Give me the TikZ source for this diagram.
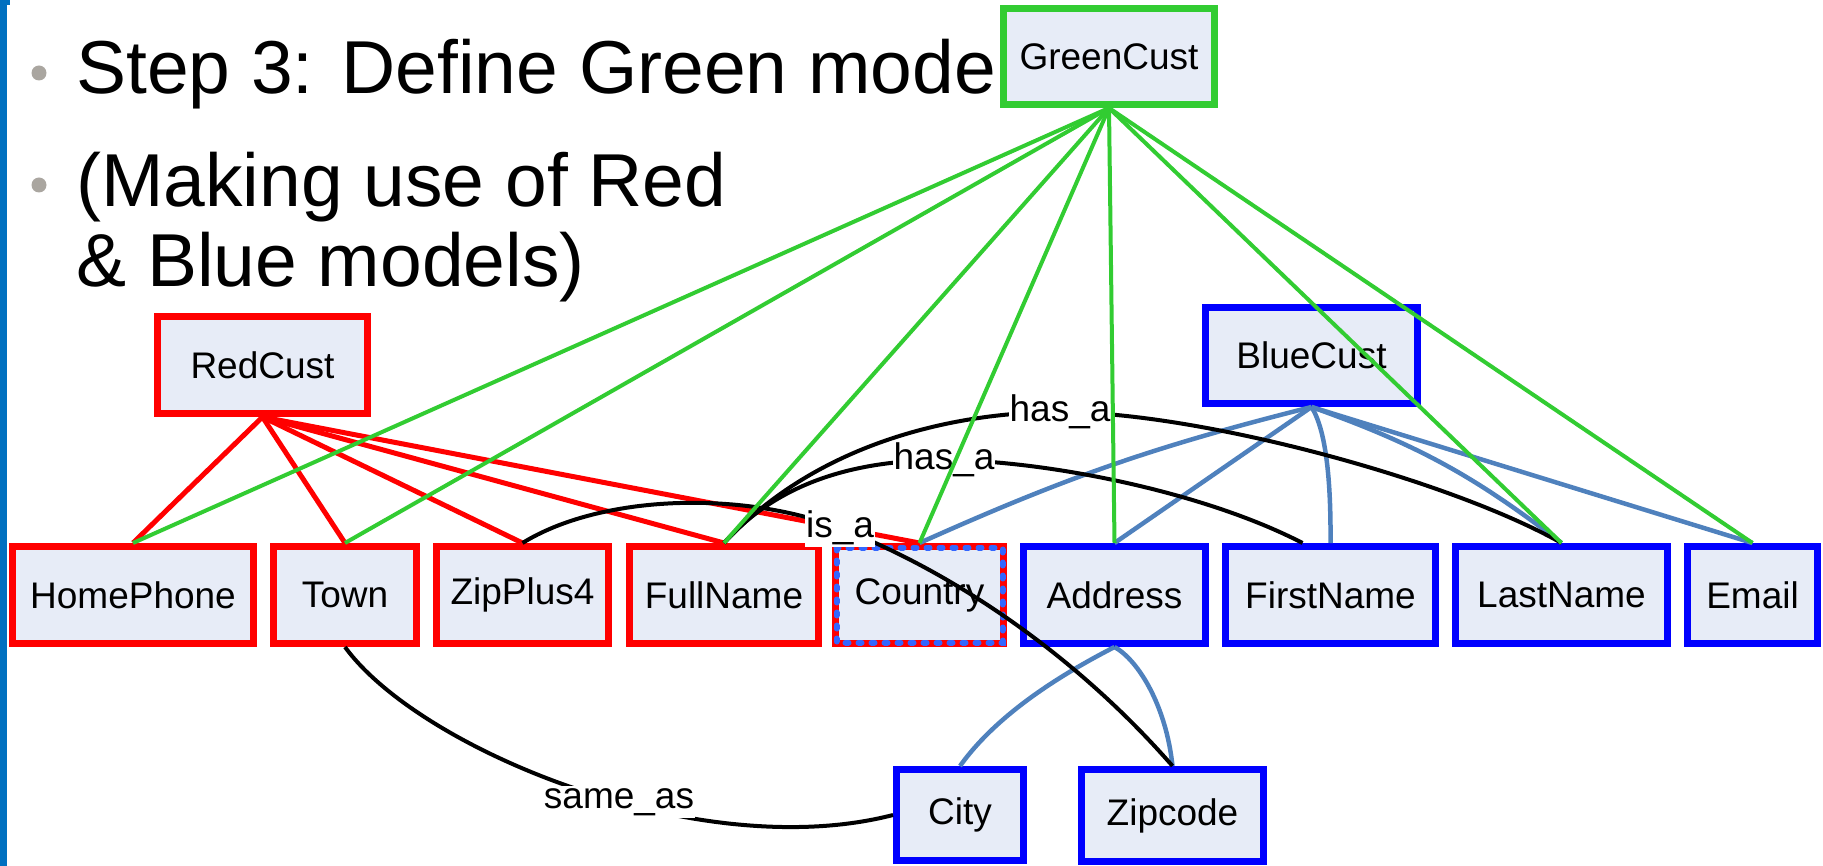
\documentclass[tikz,border=0pt]{standalone}
\usepackage{fontspec}
\setmainfont{Liberation Sans}
\definecolor{nodefill}{RGB}{231,236,247}
\definecolor{gred}{RGB}{255,0,0}
\definecolor{gblue}{RGB}{0,0,255}
\definecolor{ggreen}{RGB}{50,204,50}
\definecolor{eblue}{RGB}{79,129,189}
\definecolor{dotblue}{RGB}{51,102,255}
\definecolor{barblue}{RGB}{0,112,192}
\definecolor{bulletgrey}{RGB}{170,166,160}
\tikzset{
  box/.style={rectangle, draw, fill=nodefill, line width=7pt, inner sep=0pt,
    minimum height=97pt, font=\fontsize{37}{40}\selectfont},
  redbox/.style={box, draw=gred},
  bluebox/.style={box, draw=gblue},
  greenbox/.style={box, draw=ggreen},
  redE/.style={draw=gred, line width=5pt},
  blueE/.style={draw=eblue, line width=4.5pt},
  greenE/.style={draw=ggreen, line width=4pt},
  blackE/.style={draw=black, line width=4pt},
  lbl/.style={fill=white, inner xsep=1pt, inner ysep=2pt, font=\fontsize{37}{40}\selectfont},
  titletext/.style={anchor=base west, inner sep=0pt, font=\fontsize{75}{80}\selectfont},
}
\begin{document}
\begin{tikzpicture}[x=1pt,y=-1pt]
\useasboundingbox (0,0) rectangle (1823,866);
% left bar and bullets
\fill[barblue] (0,0) rectangle (7,866);
\fill[barblue] (0,0) rectangle (10,5);
\fill[bulletgrey] (39,73) circle[radius=7.5pt];
\fill[bulletgrey] (39,185) circle[radius=7.5pt];
\node[titletext] (t1) at (76,94) {Step 3: Define Green model};
\node[titletext] (t2) at (76,207) {(Making use of Red};
\node[titletext] (t3) at (76,287) {\& Blue models)};
% nodes
\node[greenbox, minimum width=211pt, minimum height=96pt] (GreenCust) at (1109,56.5) {GreenCust};
\node[redbox, minimum width=210pt] (RedCust) at (262.5,365) {RedCust};
\node[bluebox, minimum width=212pt, minimum height=96pt] (BlueCust) at (1311.5,355.5) {BlueCust};
\node[redbox, minimum width=241pt] (HomePhone) at (133,595) {HomePhone};
\node[redbox, minimum width=143pt] (Town) at (345,595) {Town};
\node[redbox, minimum width=172pt] (ZipPlus4) at (522.5,595) {ZipPlus4};
\node[redbox, minimum width=189pt] (FullName) at (724,595) {FullName};
\node[redbox, minimum width=168pt] (Country) at (919.5,595) {Country};
\draw[dotblue, line width=6pt, line cap=round, dash pattern=on 3pt off 10pt]
  ([shift={(4.5,4.5)}]Country.north west) rectangle ([shift={(-4.5,-4.5)}]Country.south east);
\node[bluebox, minimum width=182pt] (Address) at (1114.5,595) {Address};
\node[bluebox, minimum width=210pt] (FirstName) at (1330.5,595) {FirstName};
\node[bluebox, minimum width=212pt] (LastName) at (1561.5,595) {LastName};
\node[bluebox, minimum width=130pt] (Email) at (1752.5,595) {Email};
\node[bluebox, minimum width=127pt, minimum height=91pt] (City) at (960,815) {City};
\node[bluebox, minimum width=182pt, minimum height=92pt] (Zipcode) at (1172.5,815.5) {Zipcode};
% red edges
\foreach \n in {HomePhone,Town,ZipPlus4,FullName,Country}
  \draw[redE] (RedCust.south) -- (\n.north);
% blue edges
\draw[blueE] (BlueCust.south) to[bend right=5] (Country.north);
\draw[blueE] (BlueCust.south) -- (Address.north);
\draw[blueE] (BlueCust.south) .. controls (1326,430) and (1331,480) .. (FirstName.north);
\draw[blueE] (BlueCust.south) to[bend left=9] (LastName.north);
\draw[blueE] (BlueCust.south) -- (Email.north);
\draw[blueE] (Address.south) .. controls (1070,670) and (1000,710) .. (City.north);
\draw[blueE] (Address.south) .. controls (1138,660) and (1166,705) .. (Zipcode.north);
% black labelled edges
\draw[blackE] (FullName.north) .. controls (820,440) and (960,412) .. (1060,412)
  node[lbl] (hasa1) {has\_a} .. controls (1200,412) and (1450,480) .. (LastName.north);
\draw[blackE] (FullName.north) .. controls (780,480) and (860,460) .. (944,460)
  node[lbl] (hasa2) {has\_a} .. controls (1040,460) and (1200,490) .. ([xshift=-28pt]FirstName.north);
\draw[blackE] (ZipPlus4.north) .. controls (600,495) and (740,490) .. (840,528)
  node[lbl] (isa) {is\_a} .. controls (960,575) and (1080,660) .. (Zipcode.north);
\draw[blackE] (Town.south) .. controls (420,750) and (700,865) .. (City.west)
  node[lbl, pos=0.57] (sameas) {same\_as};
% green edges
\foreach \n in {HomePhone,Town,FullName,Country,Address,LastName,Email}
  \draw[greenE] (GreenCust.south) -- (\n.north);
\end{tikzpicture}
\end{document}
